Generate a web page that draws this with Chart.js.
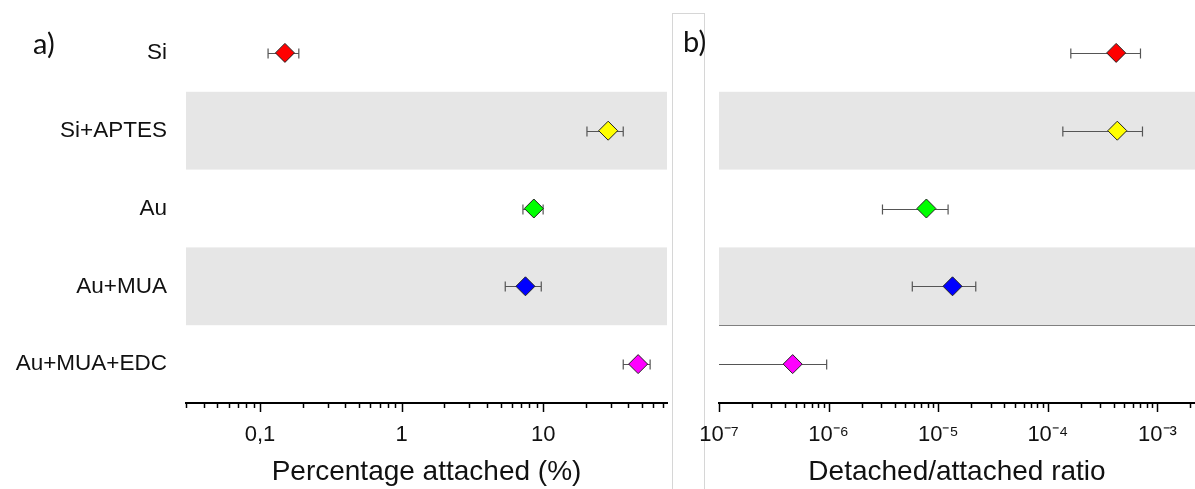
<!DOCTYPE html>
<html>
<head>
<meta charset="utf-8">
<script src="https://cdn.jsdelivr.net/npm/chart.js@4.4.0/dist/chart.umd.min.js"></script>
<style>
    body { margin: 0; background: #fff; }
    #wrap { position: relative; width: 1195px; height: 489px; overflow: hidden; }
    #boxA { position: absolute; left: 0; top: 0; }
    #boxB { position: absolute; left: 672px; top: 0; }
    #frame { position: absolute; left: 672px; top: 13px; width: 31px; height: 490px;
             border: 1px solid #d6d6d6; border-bottom: none; }
    .panel { position: absolute; font-family: Lato, "Open Sans", sans-serif; font-size: 29px; color: #111; }
</style>
</head>
<body>
<div id="wrap">
    <div id="frame"></div>
    <canvas id="boxA" width="672" height="489"></canvas>
    <canvas id="boxB" width="523" height="489"></canvas>
    <div class="panel" style="left:33px; top:25px;">a)</div>
    <div class="panel" style="left:683px; top:23px;">b)</div>
</div>
<script>
// Categorias (de arriba hacia abajo) y color de cada marcador
var categories = ['Si', 'Si+APTES', 'Au', 'Au+MUA', 'Au+MUA+EDC'];
var markerColors = ['#ff0000', '#ffff00', '#00ff00', '#0000ff', '#ff00ff'];

// a) Porcentaje adherido (%) con sus barras de error
var attached = [0.15, 28.8, 8.6, 7.5, 46.9];
var attachedLow = [0.114, 20.4, 7.2, 5.4, 36.8];
var attachedHigh = [0.188, 36.8, 10.0, 9.7, 57.0];

// b) Razon desprendido/adherido con sus barras de error
var ratio = [4.2e-4, 4.3e-4, 7.8e-6, 1.35e-5, 4.7e-7];
var ratioLow = [1.62e-4, 1.37e-4, 3.1e-6, 5.8e-6, 5e-8];
var ratioHigh = [7.0e-4, 7.3e-4, 1.23e-5, 2.2e-5, 9.6e-7];

// Etiquetas del eje x
var tickValuesA = [0.1, 1, 10];
var tickLabelsA = ['0,1', '1', '10'];
var tickValuesB = [1e-7, 1e-6, 1e-5, 1e-4, 1e-3];
var tickLabelsB = ['10\u207B\u2077', '10\u207B\u2076', '10\u207B\u2075', '10\u207B\u2074', '10\u207B\u00B3'];

var textColor = '#111';
var bandColor = '#e6e6e6';
var errColor = '#555';

// Busca la etiqueta de un valor del eje (solo potencias de diez)
function labelFor(value, values, labels) {
    for (var i = 0; i < values.length; i++) {
        if (Math.abs(Math.log10(value) - Math.log10(values[i])) < 1e-6) {
            return labels[i];
        }
    }
    return '';
}

// Franjas grises, barras de error y marcas del eje
var decorPlugin = {
    id: 'decor',
    beforeDatasetsDraw: function (chart, args, opts) {
        var ctx = chart.ctx;
        var area = chart.chartArea;
        var xs = chart.scales.x;
        var ys = chart.scales.y;
        var half = (area.bottom - area.top) / categories.length / 2;

        ctx.save();
        // franjas
        ctx.fillStyle = bandColor;
        [1, 3].forEach(function (i) {
            var yc = ys.getPixelForValue(i);
            ctx.fillRect(area.left, yc - half, area.right - area.left, 2 * half);
        });
        if (opts.separator) {
            var ySep = Math.round(ys.getPixelForValue(3) + half) + 0.5;
            ctx.strokeStyle = '#808080';
            ctx.lineWidth = 1;
            ctx.beginPath();
            ctx.moveTo(area.left, ySep);
            ctx.lineTo(area.right, ySep);
            ctx.stroke();
        }

        // barras de error
        ctx.strokeStyle = errColor;
        ctx.lineWidth = 1.2;
        for (var i = 0; i < categories.length; i++) {
            var y = Math.round(ys.getPixelForValue(i)) + 0.5;
            var x0 = xs.getPixelForValue(opts.low[i]);
            var x1 = xs.getPixelForValue(opts.high[i]);
            var clipped = x0 < area.left;
            x0 = Math.max(x0, area.left);
            ctx.beginPath();
            ctx.moveTo(x0, y);
            ctx.lineTo(x1, y);
            if (!clipped) {
                ctx.moveTo(x0, y - 5);
                ctx.lineTo(x0, y + 5);
            }
            ctx.moveTo(x1, y - 5);
            ctx.lineTo(x1, y + 5);
            ctx.stroke();
        }
        ctx.restore();
    },
    afterDraw: function (chart) {
        var ctx = chart.ctx;
        var xs = chart.scales.x;
        var bottom = chart.chartArea.bottom;
        ctx.save();
        ctx.strokeStyle = '#000';
        ctx.lineWidth = 1.5;
        xs.ticks.forEach(function (t) {
            var lg = Math.log10(t.value);
            var major = Math.abs(lg - Math.round(lg)) < 1e-6;
            var x = Math.round(xs.getPixelForValue(t.value)) + 0.5;
            ctx.beginPath();
            ctx.moveTo(x, bottom);
            ctx.lineTo(x, bottom + (major ? 9 : 5));
            ctx.stroke();
        });
        ctx.restore();
    }
};

// Marcas del eje log: 1..9 por cada decada dentro del rango
function logTicks(scale) {
    var ticks = [];
    var d0 = Math.floor(Math.log10(scale.min));
    var d1 = Math.ceil(Math.log10(scale.max));
    for (var d = d0; d <= d1; d++) {
        for (var k = 1; k <= 9; k++) {
            var v = k * Math.pow(10, d);
            if (v >= scale.min * 0.9999 && v <= scale.max * 1.0001) {
                ticks.push({ value: v });
            }
        }
    }
    scale.ticks = ticks;
}

function crearGrafica(canvasId, values, low, high, xMin, xMax, tickValues, tickLabels,
                      title, showCategories, padding, separator) {
    var context = document.getElementById(canvasId).getContext('2d');
    return new Chart(context, {
        type: 'line',
        data: {
            labels: categories,
            datasets: [{
                data: values,
                showLine: false,
                pointStyle: 'rectRot',
                pointRadius: 9.5,
                pointHoverRadius: 9.5,
                pointBackgroundColor: markerColors,
                pointBorderColor: '#222',
                pointBorderWidth: 1
            }]
        },
        options: {
            indexAxis: 'y',
            responsive: false,
            animation: false,
            devicePixelRatio: 1,
            layout: { padding: padding, autoPadding: false },
            plugins: {
                legend: { display: false },
                tooltip: { enabled: false },
                decor: { low: low, high: high, separator: separator }
            },
            scales: {
                x: {
                    type: 'logarithmic',
                    position: 'bottom',
                    min: xMin,
                    max: xMax,
                    afterBuildTicks: logTicks,
                    afterFit: function (scale) {
                        scale.height = 86;
                        scale.paddingLeft = 0;
                        scale.paddingRight = 0;
                    },
                    border: { display: true, color: '#000', width: 2 },
                    grid: { display: true, drawOnChartArea: false, drawTicks: true,
                            tickLength: 9, color: 'rgba(0,0,0,0)' },
                    ticks: {
                        autoSkip: false,
                        maxRotation: 0,
                        padding: 10,
                        color: textColor,
                        font: { family: '"Liberation Sans", Arial, sans-serif', size: 22 },
                        callback: function (value) {
                            return labelFor(value, tickValues, tickLabels);
                        }
                    },
                    title: {
                        display: true,
                        text: title,
                        color: textColor,
                        padding: { top: 5, bottom: 0 },
                        font: { family: '"Liberation Sans", Arial, sans-serif', size: 28 }
                    }
                },
                y: {
                    type: 'category',
                    offset: true,
                    display: showCategories,
                    afterFit: function (scale) {
                        if (showCategories) scale.width = 186;
                        scale.paddingTop = 0;
                        scale.paddingBottom = 0;
                    },
                    border: { display: false },
                    grid: { display: false, drawTicks: false },
                    ticks: {
                        padding: 19,
                        color: textColor,
                        font: { family: '"Liberation Sans", Arial, sans-serif', size: 22.5 }
                    }
                }
            }
        },
        plugins: [decorPlugin]
    });
}

crearGrafica('boxA', attached, attachedLow, attachedHigh, 0.03, 75,
    tickValuesA, tickLabelsA, 'Percentage attached (%)', true,
    { left: 0, right: 5, top: 14, bottom: 0 }, false);

crearGrafica('boxB', ratio, ratioLow, ratioHigh, 1e-7, 2.2e-3,
    tickValuesB, tickLabelsB, 'Detached/attached ratio', false,
    { left: 47, right: 0, top: 14, bottom: 0 }, true);
</script>
</body>
</html>
